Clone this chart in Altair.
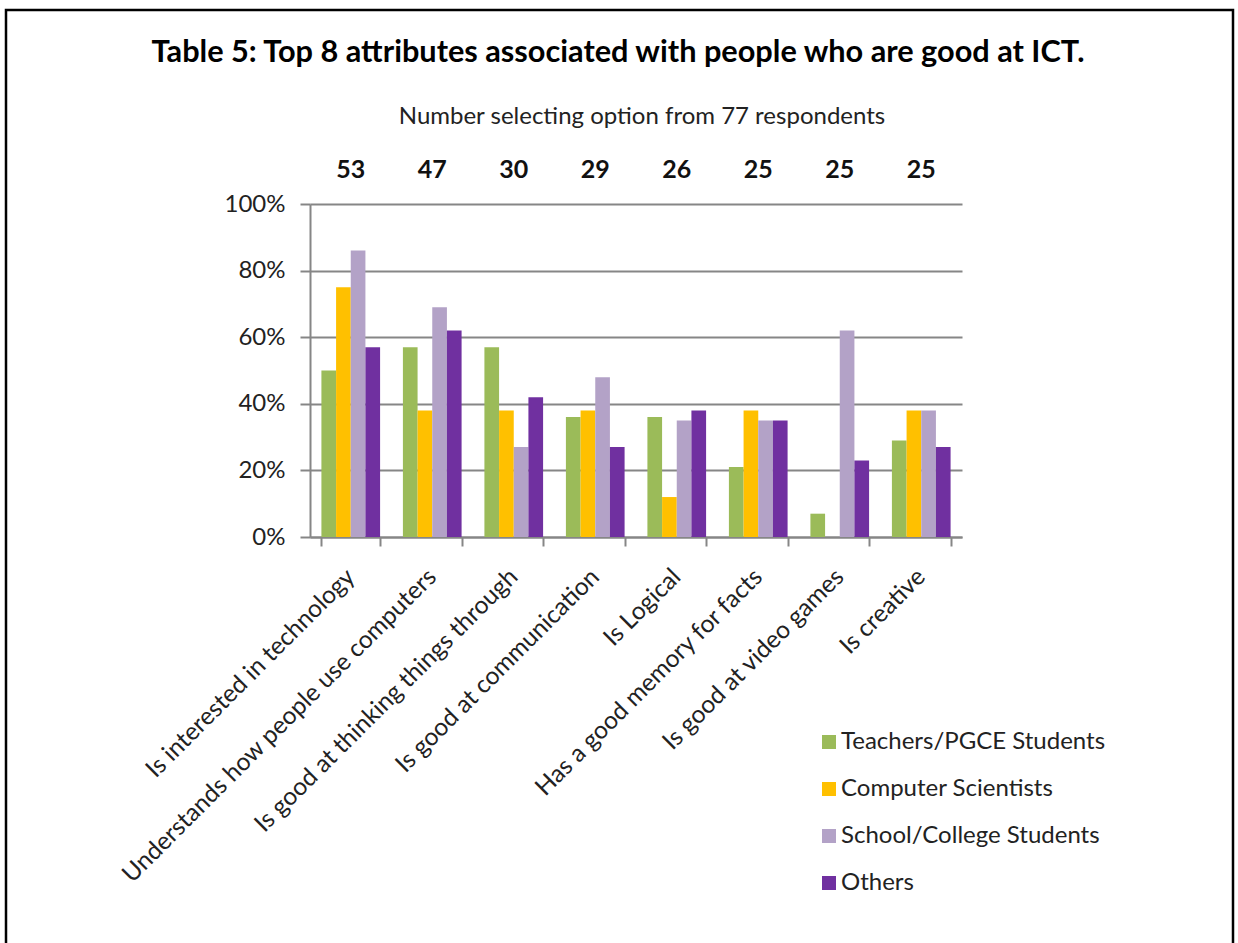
import altair as alt
import pandas as pd

categories = [
    "Is interested in technology",
    "Understands how people use computers",
    "Is good at thinking things through",
    "Is good at communication",
    "Is Logical",
    "Has a good memory for facts",
    "Is good at video games",
    "Is creative",
]
counts = [53, 47, 30, 29, 26, 25, 25, 25]
groups = ["Teachers/PGCE Students", "Computer Scientists", "School/College Students", "Others"]
colors = ["#9BBB59", "#FFC000", "#B3A2C7", "#7030A0"]

teachers = [50, 57, 57, 36, 36, 21, 7, 29]
computer_scientists = [75, 38, 38, 38, 12, 38, 0, 38]
school_students = [86, 69, 27, 48, 35, 35, 62, 38]
others = [57, 62, 42, 27, 38, 35, 23, 27]

series = [teachers, computer_scientists, school_students, others]
rows = []
for g, vals in zip(groups, series):
    for c, v in zip(categories, vals):
        rows.append({"category": c, "group": g, "value": v})
df = pd.DataFrame(rows)
count_df = pd.DataFrame({"category": categories, "count": counts})

FONT = "Lato"

x_scale = alt.Scale(domain=categories, paddingInner=0.28, paddingOuter=0.14)

bars = alt.Chart(df).mark_bar().encode(
    x=alt.X("category:N", scale=x_scale, sort=categories, title=None,
            axis=alt.Axis(labelAngle=-45, labelAlign="right", labelBaseline="middle",
                          labelFontSize=24.5, labelFont=FONT, labelColor="#222",
                          tickBand="extent", tickSize=9, tickColor="#868686", tickWidth=2,
                          domainColor="#868686", domainWidth=2, grid=False,
                          labelPadding=27, labelLimit=700)),
    xOffset=alt.XOffset("group:N", sort=groups, scale=alt.Scale(domain=groups, paddingInner=0)),
    y=alt.Y("value:Q", scale=alt.Scale(domain=[0, 100], nice=False), title=None,
            axis=alt.Axis(values=[0, 20, 40, 60, 80, 100], labelExpr="datum.value + '%'",
                          labelFontSize=24, labelFont=FONT, labelColor="#222",
                          tickSize=10, tickColor="#868686", tickWidth=2,
                          domainColor="#868686", domainWidth=2,
                          grid=True, gridColor="#868686", gridWidth=2, labelPadding=15)),
    color=alt.Color("group:N", sort=groups, scale=alt.Scale(domain=groups, range=colors),
                    legend=alt.Legend(title=None, orient="none", legendX=507, legendY=526,
                                      symbolType="square", symbolSize=196, symbolStrokeWidth=0,
                                      labelFontSize=24, labelFont=FONT, labelColor="#222",
                                      rowPadding=23, labelOffset=0, labelLimit=400)),
)

count_text = alt.Chart(count_df).mark_text(fontSize=25, fontWeight="bold", font=FONT,
                                           color="#111", baseline="middle").encode(
    x=alt.X("category:N", scale=x_scale, sort=categories),
    y=alt.value(-34),
    text="count:Q",
)

title_df = pd.DataFrame({"t": ["Table 5: Top 8 attributes associated with people who are good at ICT."]})
title_text = alt.Chart(title_df).mark_text(fontSize=30.7, fontWeight="bold", font=FONT,
                                           color="#000", baseline="middle", align="center").encode(
    x=alt.value(308), y=alt.value(-151), text="t:N")

sub_df = pd.DataFrame({"t": ["Number selecting option from 77 respondents"]})
sub_text = alt.Chart(sub_df).mark_text(fontSize=24, font=FONT, color="#222",
                                       baseline="middle", align="center").encode(
    x=alt.value(332), y=alt.value(-87), text="t:N")

border_df = pd.DataFrame({"b": [1]})
border = alt.Chart(border_df).mark_rect(fill="transparent", stroke="#000", strokeWidth=2.5).encode(
    x=alt.value(-304), x2=alt.value(923), y=alt.value(-194), y2=alt.value(800))

chart = alt.layer(border, bars, count_text, title_text, sub_text).properties(
    width=652, height=333,
    autosize=alt.AutoSizeParams(type="none"),
    padding={"left": 310, "top": 204, "right": 276, "bottom": 406},
    background="white",
).configure_view(strokeWidth=0)

chart.save("out.html", embed_options={"renderer": "svg", "actions": False})
